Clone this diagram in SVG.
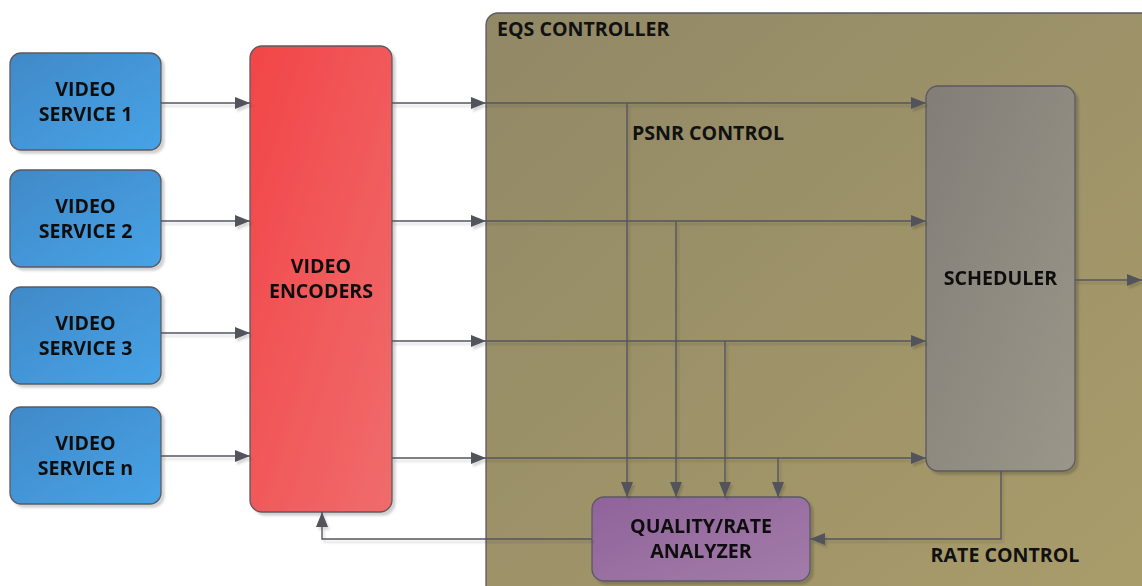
<svg xmlns="http://www.w3.org/2000/svg" width="1142" height="586" viewBox="0 0 1142 586">
<defs>
<linearGradient id="gBlue" x1="0" y1="0" x2="1" y2="1"><stop offset="0" stop-color="#4189c8"/><stop offset="1" stop-color="#46a3e6"/></linearGradient>
<linearGradient id="gRed" x1="0" y1="0" x2="1" y2="1"><stop offset="0" stop-color="#f24548"/><stop offset="1" stop-color="#f06c6c"/></linearGradient>
<linearGradient id="gOlive" x1="0" y1="0" x2="1" y2="1"><stop offset="0" stop-color="#918866"/><stop offset="1" stop-color="#ab9e6b"/></linearGradient>
<linearGradient id="gGray" x1="0" y1="0" x2="1" y2="1"><stop offset="0" stop-color="#827e77"/><stop offset="1" stop-color="#9a9689"/></linearGradient>
<linearGradient id="gPurple" x1="0" y1="0" x2="1" y2="1"><stop offset="0" stop-color="#90639a"/><stop offset="1" stop-color="#a27ca9"/></linearGradient>
<filter id="sh" x="-10%" y="-10%" width="130%" height="130%"><feDropShadow dx="3" dy="3" stdDeviation="1" flood-color="#000" flood-opacity="0.18"/></filter>
<filter id="lsh" x="-5%" y="-50%" width="110%" height="200%" filterUnits="userSpaceOnUse"><feDropShadow dx="2" dy="3" stdDeviation="0.8" flood-color="#000" flood-opacity="0.15"/></filter>
<marker id="ah" markerUnits="userSpaceOnUse" markerWidth="16" markerHeight="12" refX="15" refY="6" orient="auto"><path d="M0,0 L15,6 L0,12 z" fill="#52525c"/></marker>
</defs>
<style>
.box{stroke:#5a5a62;stroke-width:1.3}
.t{font-family:"Open Sans","Liberation Sans",sans-serif;font-weight:700;fill:#111;text-anchor:middle}
.s{font-size:19.6px}
.m{font-size:19.6px}
.l{text-anchor:start}
.c{fill:none;stroke:#55555f;stroke-width:1.4;marker-end:url(#ah)}
.p{fill:none;stroke:#55555f;stroke-width:1.4}
</style>
<g id="controller">
<rect class="box" x="486" y="13" width="720" height="620" rx="12" fill="url(#gOlive)"/>
<text class="t m l" x="497" y="36">EQS CONTROLLER</text>
</g>
<g id="svc1" filter="url(#sh)">
<rect class="box" x="10" y="53" width="151" height="97" rx="11" fill="url(#gBlue)"/>
<text class="t s" x="85.5" y="96">VIDEO</text><text class="t s" x="85.5" y="121">SERVICE 1</text>
</g>
<g id="svc2" filter="url(#sh)">
<rect class="box" x="10" y="170" width="151" height="97" rx="11" fill="url(#gBlue)"/>
<text class="t s" x="85.5" y="213">VIDEO</text><text class="t s" x="85.5" y="238">SERVICE 2</text>
</g>
<g id="svc3" filter="url(#sh)">
<rect class="box" x="10" y="287" width="151" height="97" rx="11" fill="url(#gBlue)"/>
<text class="t s" x="85.5" y="330">VIDEO</text><text class="t s" x="85.5" y="355">SERVICE 3</text>
</g>
<g id="svcn" filter="url(#sh)">
<rect class="box" x="10" y="407" width="151" height="97" rx="11" fill="url(#gBlue)"/>
<text class="t s" x="85.5" y="450">VIDEO</text><text class="t s" x="85.5" y="475">SERVICE n</text>
</g>
<g id="encoders" filter="url(#sh)">
<rect class="box" x="250" y="46" width="142" height="466" rx="12" fill="url(#gRed)"/>
<text class="t m" x="321" y="273">VIDEO</text><text class="t m" x="321" y="298">ENCODERS</text>
</g>
<g id="scheduler" filter="url(#sh)">
<rect class="box" x="926" y="86" width="149" height="385" rx="12" fill="url(#gGray)"/>
<text class="t m" x="1000.5" y="285">SCHEDULER</text>
</g>
<g id="analyzer" filter="url(#sh)">
<rect class="box" x="592" y="497" width="218" height="84" rx="12" fill="url(#gPurple)"/>
<text class="t m" x="701" y="533">QUALITY/RATE</text><text class="t m" x="701" y="558">ANALYZER</text>
</g>
<g id="connectors" filter="url(#lsh)">
<path class="c" d="M161,103 H250"/>
<path class="c" d="M161,221 H250"/>
<path class="c" d="M161,333 H250"/>
<path class="c" d="M161,456 H250"/>
<path class="c" d="M392,103 H486"/>
<path class="c" d="M392,221 H486"/>
<path class="c" d="M392,341 H486"/>
<path class="c" d="M392,458 H486"/>
<path class="c" d="M486,103 H926"/>
<path class="c" d="M486,221 H926"/>
<path class="c" d="M486,341 H926"/>
<path class="c" d="M486,458 H926"/>
<path class="c" d="M627,103 V497"/>
<path class="c" d="M676,221 V497"/>
<path class="c" d="M725,341 V497"/>
<path class="c" d="M778,458 V497"/>
<path class="c" d="M1075,280 H1142"/>
<path class="c" d="M1001,471 V539 H810"/>
<path class="c" d="M592,539 H322 V512"/>
</g>
<g id="labels">
<text class="t m l" x="632" y="140">PSNR CONTROL</text>
<text class="t m" x="1005" y="562">RATE CONTROL</text>
</g>
</svg>
